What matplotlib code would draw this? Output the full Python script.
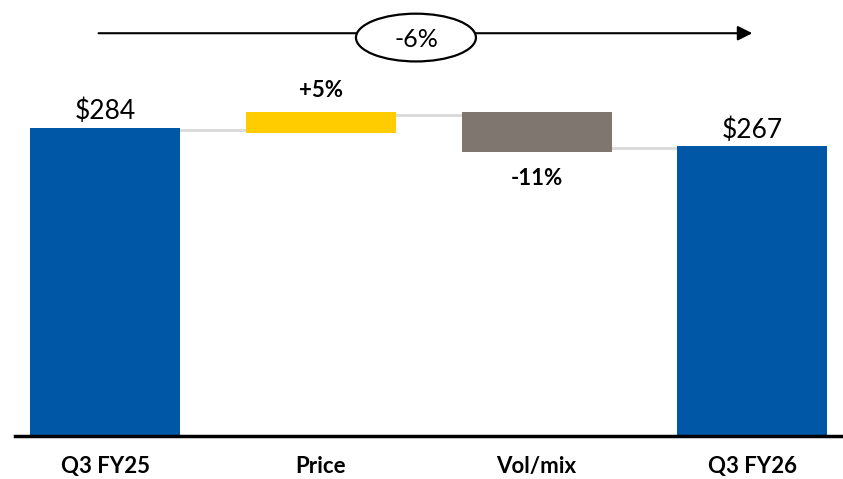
import matplotlib.pyplot as plt
from matplotlib.patches import Ellipse

plt.rcParams['font.family'] = ['Lato', 'DejaVu Sans']

# waterfall values
categories = ['Q3 FY25', 'Price', 'Vol/mix', 'Q3 FY26']
bottoms = [0, 279, 262, 0]
tops = [284, 298, 298, 267]
labels = ['$284', '+5%', '-11%', '$267']
connectors = [282, 296, 265]
total_change = '-6%'

colors = ['#0057A5', '#FFCC00', '#7F7670', '#0057A5']

fig = plt.figure(figsize=(8.43, 4.79), dpi=100)
ax = fig.add_axes([0, 43 / 479, 1, 436 / 479])

x = list(range(len(categories)))
heights = [t - b for t, b in zip(tops, bottoms)]
ax.bar(x, heights, bottom=bottoms, width=0.695, color=colors, zorder=3)

# connector lines between bars
for i, level in enumerate(connectors):
    ax.plot([x[i] + 0.3475, x[i + 1] - 0.3475], [level, level],
            color='#D9D9D9', lw=2, zorder=2)

# value labels
ax.text(x[0], tops[0] + 3, labels[0], ha='center', va='bottom', fontsize=19)
ax.text(x[1], tops[1] + 11, labels[1], ha='center', va='bottom', fontsize=16, fontweight='bold')
ax.text(x[2], bottoms[2] - 15, labels[2], ha='center', va='top', fontsize=16, fontweight='bold')
ax.text(x[3], tops[3] + 3, labels[3], ha='center', va='bottom', fontsize=19)

# baseline
ax.plot([-0.417, 3.5], [0, 0], color='black', lw=2.5, zorder=4, clip_on=False)

# overall change arrow
ax.annotate('', xy=(3.0, 371), xytext=(-0.03, 371),
            arrowprops=dict(arrowstyle='-|>', color='black', lw=1.5,
                            mutation_scale=22, shrinkA=0, shrinkB=0))
ax.add_patch(Ellipse((1.441, 367), 0.556, 44, facecolor='white',
                     edgecolor='black', lw=1.6, zorder=5))
ax.text(1.441, 365, total_change, ha='center', va='center', fontsize=18, zorder=6)

# category labels
for xi, cat in zip(x, categories):
    ax.text(xi, -28, cat, ha='center', va='center', fontsize=16, fontweight='bold')

ax.set_xlim(-0.4866, 3.42)
ax.set_ylim(0, 401.6)
ax.axis('off')

plt.savefig('out.png', dpi=100)
